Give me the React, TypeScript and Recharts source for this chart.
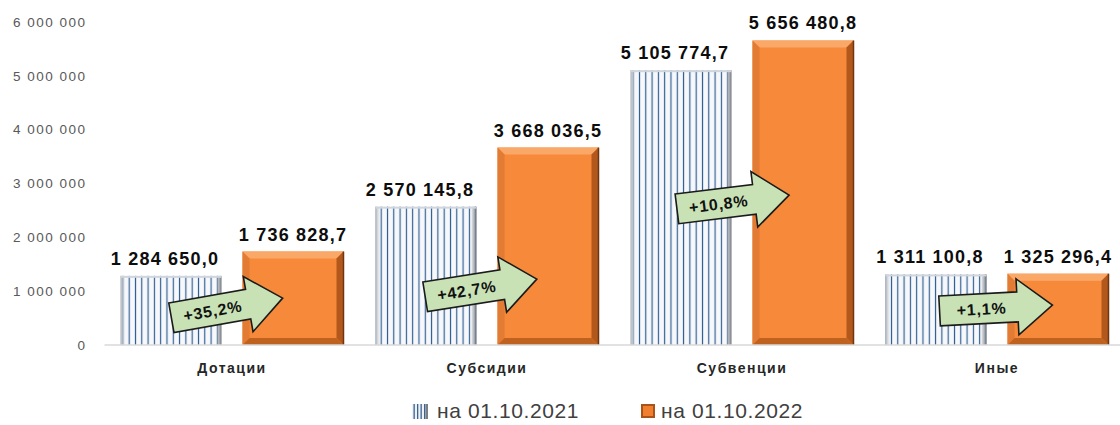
import { BarChart, Bar, XAxis, YAxis, Legend, LabelList } from "recharts";

const categories = ["Дотации", "Субсидии", "Субвенции", "Иные"];
const values2021 = [1284650.0, 2570145.8, 5105774.7, 1311100.8];
const values2022 = [1736828.7, 3668036.5, 5656480.8, 1325296.4];
const growthLabels = ["+35,2%", "+42,7%", "+10,8%", "+1,1%"];
const seriesNames = ["на 01.10.2021", "на 01.10.2022"];
const yTicks = [0, 1000000, 2000000, 3000000, 4000000, 5000000, 6000000];

// where each green arrow sits, relative to the orange bar (px)
const arrowPlacement = [
  { dx: -16, lift: 37, angle: -10 },
  { dx: -17, lift: 57, angle: -9 },
  { dx: -20, lift: 143, angle: -7 },
  { dx: -12, lift: 37, angle: -3 },
];

const data = categories.map((name, i) => ({
  name,
  y2021: values2021[i],
  y2022: values2022[i],
  growth: growthLabels[i],
}));

const FONT = "'Liberation Sans', Arial, sans-serif";

const groupThousands = (s: string) => s.replace(/\B(?=(\d{3})+(?!\d))/g, " ");
const fmtAxis = (v: number) => groupThousands(String(v));
const fmtValue = (v: unknown) => {
  if (typeof v !== "number") return String(v);
  const [int, dec] = v.toFixed(1).split(".");
  return `${groupThousands(int)},${dec}`;
};

function StripedBar(props: any) {
  const { x, y, width, height } = props;
  if (!height || height <= 0) return null;
  return (
    <g>
      <rect x={x} y={y} width={width} height={height} fill="url(#stripes)" />
      <rect x={x} y={y} width={5} height={height} fill="url(#stripeLeft)" />
      <rect x={x + width - 5} y={y} width={5} height={height} fill="url(#stripeRight)" />
      <rect x={x} y={y} width={width} height={2} fill="#cfd5dd" />
    </g>
  );
}

function OrangeBar(props: any) {
  const { x, y, width, height, payload } = props;
  if (!height || height <= 0) return null;
  const b = 7;
  const x2 = x + width;
  const y2 = y + height;
  const i = categories.indexOf(payload?.name);
  const p = arrowPlacement[i];
  return (
    <g>
      <rect x={x} y={y} width={width} height={height} fill="#f7893b" />
      <polygon points={`${x},${y} ${x2},${y} ${x2 - b},${y + b} ${x + b},${y + b}`} fill="#f9a868" />
      <polygon points={`${x},${y} ${x + b},${y + b} ${x + b},${y2 - b} ${x},${y2}`} fill="#e27b33" />
      <polygon points={`${x2},${y} ${x2},${y2} ${x2 - b},${y2 - b} ${x2 - b},${y + b}`} fill="#b3581c" />
      <polygon points={`${x},${y2} ${x + b},${y2 - b} ${x2 - b},${y2 - b} ${x2},${y2}`} fill="#c0621f" />
      <line x1={x2} y1={y} x2={x2} y2={y2} stroke="#6e3510" strokeWidth={1.5} />
      {p && (
        <g transform={`translate(${x + p.dx},${y2 - p.lift}) rotate(${p.angle})`}>
          <polygon
            points="-56,-15 22,-15 22,-28 57,0 22,28 22,15 -56,15"
            fill="#c8e2b6"
            stroke="#1b1b1b"
            strokeWidth={1.6}
          />
          <text
            x={-14}
            y={6}
            textAnchor="middle"
            fontFamily={FONT}
            fontSize={16}
            fontWeight={700}
            letterSpacing={0.8}
            fill="#111"
          >
            {payload.growth}
          </text>
        </g>
      )}
    </g>
  );
}

function LegendContent() {
  return (
    <div
      style={{
        height: 36,
        boxSizing: "border-box",
        paddingTop: 8,
        paddingLeft: 412,
        display: "flex",
        alignItems: "center",
        fontFamily: FONT,
        fontSize: 21,
        letterSpacing: 0.6,
        color: "#404040",
      }}
    >
      <svg width={16} height={15}>
        <rect x={0} y={0} width={16} height={15} fill="#eef2f7" />
        {[1.5, 5, 8.5, 12].map((lx) => (
          <rect key={lx} x={lx} y={0} width={1.3} height={15} fill="#3a6391" />
        ))}
        <rect x={13.5} y={0} width={2.5} height={15} fill="#7a7f86" />
      </svg>
      <span style={{ marginLeft: 9 }}>{seriesNames[0]}</span>
      <svg width={14} height={14} style={{ marginLeft: 62 }}>
        <rect x={0} y={0} width={14} height={14} fill="#a9521a" />
        <rect x={2} y={2} width={10} height={10} fill="#f07f30" />
      </svg>
      <span style={{ marginLeft: 6 }}>{seriesNames[1]}</span>
    </div>
  );
}

export default function App() {
  return (
    <div style={{ position: "absolute", left: 0, top: 0, background: "#fff" }}>
      <BarChart
        width={1126}
        height={425}
        data={data}
        margin={{ top: 22, right: 1.5, left: 0, bottom: 0 }}
        barSize={101}
        barGap={21}
      >
        <defs>
          <pattern id="stripes" patternUnits="userSpaceOnUse" width={6.3} height={10}>
            <rect width={6.3} height={10} fill="#f6f8fb" />
            <rect x={2.6} width={1.15} height={10} fill="#2b5a8e" />
          </pattern>
          <linearGradient id="stripeLeft" x1="0" y1="0" x2="1" y2="0">
            <stop offset="0%" stopColor="#a9adb3" />
            <stop offset="100%" stopColor="#e6e9ed" stopOpacity={0.2} />
          </linearGradient>
          <linearGradient id="stripeRight" x1="0" y1="0" x2="1" y2="0">
            <stop offset="0%" stopColor="#b9bdc3" stopOpacity={0.4} />
            <stop offset="100%" stopColor="#6f747b" />
          </linearGradient>
        </defs>
        <XAxis
          dataKey="name"
          height={44}
          interval={0}
          axisLine={{ stroke: "#d9d9d9", strokeWidth: 1.5 }}
          tickLine={false}
          tickSize={6}
          tickMargin={12}
          tick={{ fill: "#262626", fontSize: 14, fontWeight: 700, fontFamily: FONT, letterSpacing: 1.5 }}
        />
        <YAxis
          width={104.5}
          domain={[0, 6000000]}
          ticks={yTicks}
          tickFormatter={fmtAxis}
          axisLine={false}
          tickLine={false}
          tickSize={6}
          tickMargin={12}
          tick={{ fill: "#595959", fontSize: 13.5, fontFamily: FONT, letterSpacing: 1.5 }}
        />
        <Legend verticalAlign="bottom" height={36} content={<LegendContent />} />
        <Bar dataKey="y2021" name={seriesNames[0]} shape={<StripedBar />} isAnimationActive={false}>
          <LabelList
            dataKey="y2021"
            position="top"
            offset={11}
            formatter={fmtValue}
            fill="#0d0d0d"
            fontSize={18}
            fontWeight={700}
            fontFamily={FONT}
            letterSpacing={1.2}
            dx={-6}
          />
        </Bar>
        <Bar dataKey="y2022" name={seriesNames[1]} shape={<OrangeBar />} isAnimationActive={false}>
          <LabelList
            dataKey="y2022"
            position="top"
            offset={11}
            formatter={fmtValue}
            fill="#0d0d0d"
            fontSize={18}
            fontWeight={700}
            fontFamily={FONT}
            letterSpacing={1.2}
          />
        </Bar>
      </BarChart>
    </div>
  );
}
